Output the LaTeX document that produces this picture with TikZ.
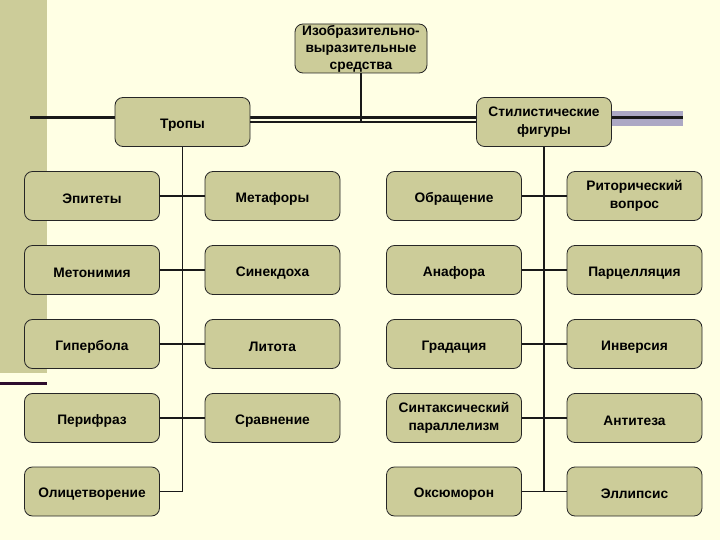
\documentclass[tikz,border=0pt]{standalone}
\usepackage{fontspec}
\setmainfont{Liberation Sans}
\definecolor{bgcream}{RGB}{255,255,228}
\definecolor{khaki}{RGB}{204,204,153}
\definecolor{lavender}{RGB}{172,168,196}
\definecolor{plum}{RGB}{45,12,45}

\begin{document}
\begin{tikzpicture}
[x=1bp, y=-1bp, line width=1.6bp,
 term/.style={draw=black!85, line width=0.8bp, fill=khaki, rounded corners=8bp,
   minimum width=135bp, minimum height=49bp, inner sep=1bp, align=center,
   font=\fontsize{13.8}{17.5}\selectfont\bfseries,
   execute at begin node={\rule{0pt}{15bp}}},
 link/.style={draw=black!90, line width=1.6bp}]
\useasboundingbox (0,0) rectangle (720,540);
\fill[bgcream] (0,0) rectangle (720,540); %% background
\fill[khaki]   (0,0) rectangle (47,373);  %% left band
\fill[plum]    (0,382) rectangle (47,385);
\fill[lavender] (612,111) rectangle (683,126); %% right bar
\draw[black!90, line width=2.2bp] (30,117.5)--(683,117.5); %% title rule
%%
\node (izobr) at (361, 48.5) [term, minimum width=132bp, inner ysep=0bp,
  font=\fontsize{13.8}{17}\selectfont\bfseries,
  execute at begin node={\rule{0pt}{12bp}}] {Изобразительно-\\выразительные\\средства};
\node (tropy) at (182.5, 122) [term] {Тропы};
\node (stil)  at (544, 122)   [term] {Стилистические\\фигуры};
%% Tropes
\node (epit)  at (92, 196)    [term] {Эпитеты};
\node (metaf) at (272.5, 196) [term] {Метафоры};
\node (meton) at (92, 270)    [term] {Метонимия};
\node (sinek) at (272.5, 270) [term] {Синекдоха};
\node (giper) at (92, 344)    [term] {Гипербола};
\node (litot) at (272.5, 344) [term] {Литота};
\node (perif) at (92, 418)    [term] {Перифраз};
\node (sravn) at (272.5, 418) [term] {Сравнение};
\node (olic)  at (92, 491.5)  [term] {Олицетворение};
%% Figures
\node (obras) at (454, 196)   [term] {Обращение};
\node (ritor) at (634.5, 196) [term] {Риторический\\вопрос};
\node (anaf)  at (454, 270)   [term] {Анафора};
\node (parc)  at (634.5, 270) [term] {Парцелляция};
\node (grad)  at (454, 344)   [term] {Градация};
\node (inver) at (634.5, 344) [term] {Инверсия};
\node (sint)  at (454, 418)   [term] {Синтаксический\\параллелизм};
\node (antit) at (634.5, 418) [term] {Антитеза};
\node (oksum) at (454, 491.5) [term] {Оксюморон};
\node (ellip) at (634.5, 491.5) [term] {Эллипсис};
%%
\draw[link] (izobr.south) -- (izobr.south |- tropy.east); %% top
\draw[link] (tropy.east) -- (stil.west);
\draw[link] (tropy.south) -- (tropy.south |- olic.east) -- (olic.east); %% trunk left
\draw[link] (stil.south) -- (stil.south |- oksum.east); %% trunk right
\draw[link] (epit.east)  -- (metaf.west);
\draw[link] (meton.east) -- (sinek.west);
\draw[link] (giper.east) -- (litot.west);
\draw[link] (perif.east) -- (sravn.west);
\draw[link] (obras.east) -- (ritor.west);
\draw[link] (anaf.east)  -- (parc.west);
\draw[link] (grad.east)  -- (inver.west);
\draw[link] (sint.east)  -- (antit.west);
\draw[link] (oksum.east) -- (ellip.west);
\end{tikzpicture}
\end{document}
